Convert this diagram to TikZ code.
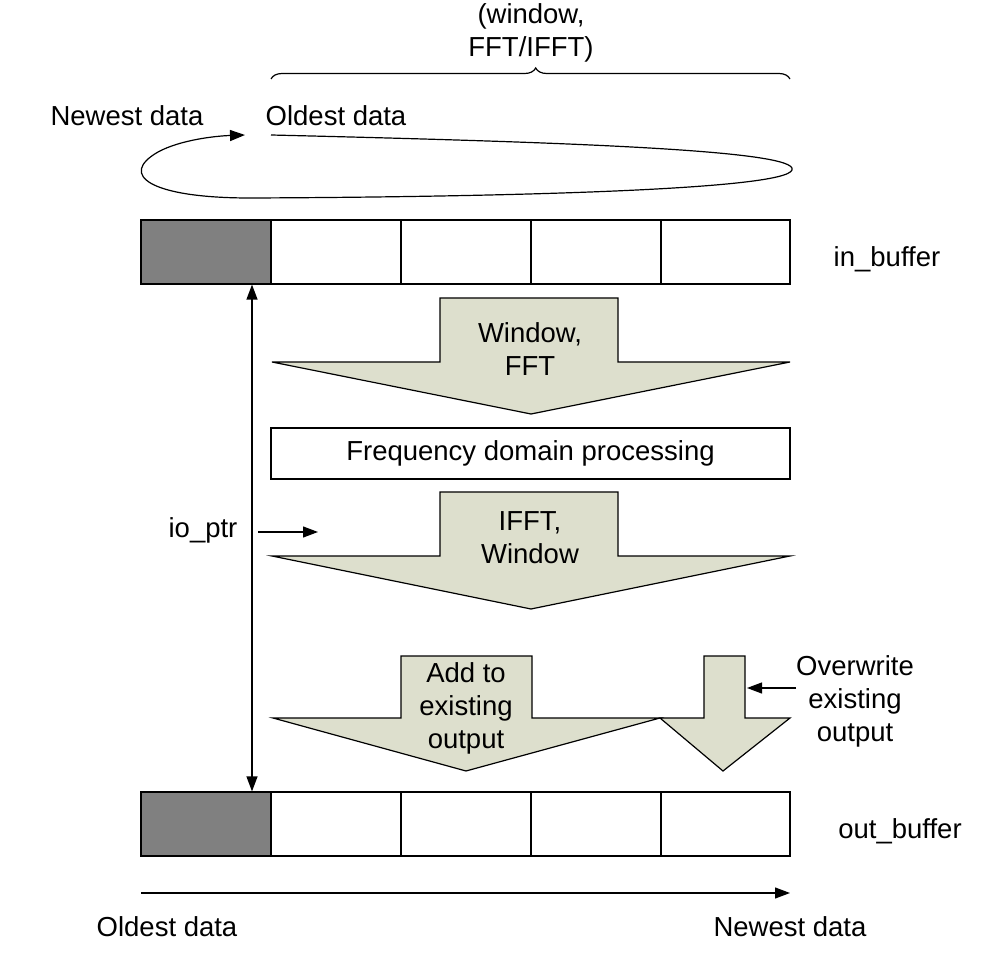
\documentclass[tikz,border=0pt]{standalone}
\usepackage{fontspec}
\setmainfont{Liberation Sans}
\usetikzlibrary{arrows.meta,decorations.pathreplacing}
\definecolor{tanfill}{RGB}{221,223,205}
\definecolor{darkcell}{RGB}{128,128,128}
\begin{document}
\begin{tikzpicture}[x=1pt,y=-1pt,
  lw/.style={line width=1.2pt},
  cell/.style={draw,lw,minimum width=130pt,minimum height=64pt,inner sep=0pt},
  lbl/.style={font=\fontsize{27.5}{33}\selectfont,align=center,inner sep=0pt},
  bigarrow/.style={draw,lw,fill=tanfill,line join=miter},
  tip/.style={-{Triangle[length=15pt,width=11pt]}},
  dtip/.style={{Triangle[length=15pt,width=11pt]}-{Triangle[length=15pt,width=11pt]}}
]
\useasboundingbox (0,0) rectangle (994,957);

% top brace and label
\draw[lw,decorate,decoration={brace,amplitude=11pt,aspect=0.51}] (271,79) -- (790,79);
\node[lbl] (wf) at (531,33) {(window,\\FFT/IFFT)};

% circular loop
\node[lbl] (newtop) at (127,116) {Newest data};
\node[lbl] (oldtop) at (336,116) {Oldest data};
\draw[lw,tip] (271,135) .. controls (560,142) and (800,150) .. (792,170)
  .. controls (785,190) and (500,197) .. (250,198)
  .. controls (150,198) and (118,175) .. (158,152)
  .. controls (180,140) and (215,136) .. (245,135);

% in_buffer
\node[cell,fill=darkcell] (i0) at (206,252) {};
\node[cell] (i1) at (336,252) {};
\node[cell] (i2) at (466,252) {};
\node[cell] (i3) at (596,252) {};
\node[cell,minimum width=129pt] (i4) at (725.5,252) {};
\node[lbl] (inb) at (887,259) {in\_buffer};

% Window, FFT arrow
\draw[bigarrow] (440,298) -- (618,298) -- (618,362) -- (790,362) -- (531,414) -- (272,362) -- (440,362) -- cycle;
\node[lbl] (fft) at (530,349) {Window,\\FFT};

% Frequency domain processing
\node[draw,lw,minimum width=519pt,minimum height=51pt,inner sep=0pt,font=\fontsize{27.5}{33}\selectfont] (fdp) at (530.5,453.5) {Frequency domain processing};

% IFFT, Window arrow
\draw[bigarrow] (440,492) -- (618,492) -- (618,556) -- (790,556) -- (531,609) -- (272,556) -- (440,556) -- cycle;
\node[lbl] (ifft) at (530,538) {IFFT,\\Window};

% Add to existing output arrow
\draw[bigarrow] (401,656) -- (532,656) -- (532,718) -- (660,718) -- (466,771) -- (273,718) -- (401,718) -- cycle;
\node[lbl] (add) at (466,708) {Add to\\existing\\output};

% Overwrite arrow
\draw[bigarrow] (704,656) -- (745,656) -- (745,718) -- (790,718) -- (723,771) -- (660,718) -- (704,718) -- cycle;
\node[lbl] (ovr) at (855,701) {Overwrite\\existing\\output};
\coordinate (ovrs) at (796,688);
\coordinate (ovre) at (747,688);
\draw[lw,tip] (ovrs) -- (ovre);

% out_buffer
\node[cell,fill=darkcell] (o0) at (206,824) {};
\node[cell] (o1) at (336,824) {};
\node[cell] (o2) at (466,824) {};
\node[cell] (o3) at (596,824) {};
\node[cell,minimum width=129pt] (o4) at (725.5,824) {};
\node[lbl] (outb) at (900,831) {out\_buffer};

% io_ptr
\draw[lw,dtip] ([xshift=46pt]i0.south) -- ([xshift=46pt]o0.north);
\node[lbl] (io) at (203,530) {io\_ptr};
\coordinate (ios) at (258,532);
\coordinate (ioe) at (318,532);
\draw[lw,tip] (ios) -- (ioe);

% bottom time axis
\coordinate (axs) at (141,893);
\coordinate (axe) at (790,893);
\draw[lw,tip] (axs) -- (axe);
\node[lbl] (oldb) at (167,927) {Oldest data};
\node[lbl] (newb) at (790,927) {Newest data};
\end{tikzpicture}
\end{document}
